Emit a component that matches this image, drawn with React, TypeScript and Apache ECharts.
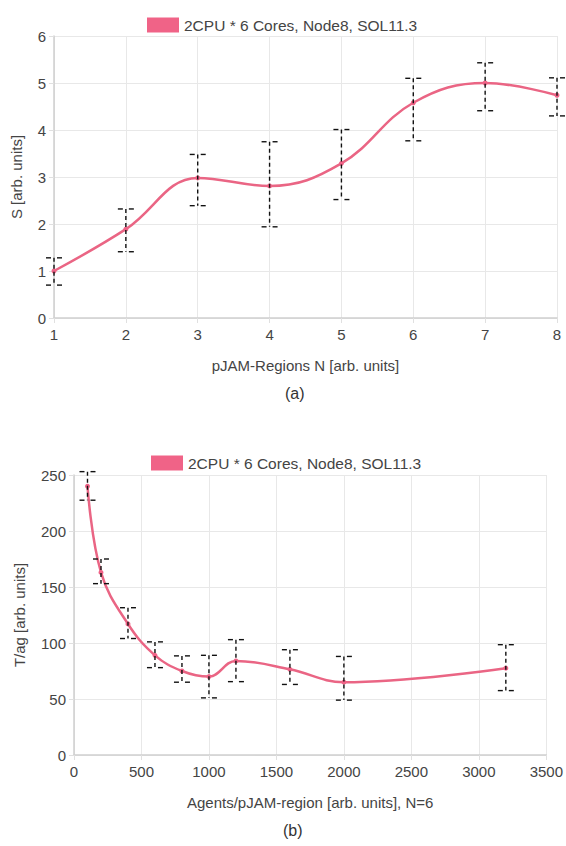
import React, { useEffect, useRef } from "react";
import * as echarts from "echarts";

const seriesName = "2CPU * 6 Cores, Node8, SOL11.3";

// Chart (a)
const regionsN = [1, 2, 3, 4, 5, 6, 7, 8];
const speedup = [1.0, 1.89, 2.98, 2.81, 3.29, 4.58, 5.0, 4.74];
const speedupLow = [0.7, 1.41, 2.39, 1.94, 2.52, 3.77, 4.41, 4.3];
const speedupHigh = [1.28, 2.32, 3.48, 3.75, 4.01, 5.1, 5.43, 5.11];

// Chart (b)
const agents = [100, 200, 400, 600, 800, 1000, 1200, 1600, 2000, 3200];
const timePerAgent = [240, 163, 117, 89, 75, 70, 84, 76.5, 65, 77.5];
const timeLow = [227.5, 153, 104, 78, 65, 51, 65.5, 63, 49, 57.5];
const timeHigh = [253, 175, 131.5, 101, 88.5, 89, 103, 94, 88, 98.5];

const LINE = "#ea6584";
const LEGEND_FILL = "#f06387";
const FONT = "Liberation Sans, Arial, sans-serif";

function errRender(params: any, api: any) {
  const x = api.value(0);
  const lo = api.value(1);
  const hi = api.value(2);
  const p1 = api.coord([x, hi]);
  const p2 = api.coord([x, lo]);
  const st = { stroke: "#111", lineWidth: 1.4, lineDash: [4, 3] };
  const cap = { stroke: "#111", lineWidth: 1.4 };
  const mk = (y: number) => [
    { type: "line", shape: { x1: p1[0] - 8, y1: y, x2: p1[0] - 3, y2: y }, style: cap },
    { type: "line", shape: { x1: p1[0] + 3, y1: y, x2: p1[0] + 8, y2: y }, style: cap },
  ];
  return {
    type: "group",
    children: [
      { type: "line", shape: { x1: p1[0], y1: p1[1], x2: p2[0], y2: p2[1] }, style: st },
      ...mk(p1[1]),
      ...mk(p2[1]),
    ],
  };
}

export default function App() {
  const ref = useRef<HTMLDivElement>(null);
  useEffect(() => {
    if (!ref.current) return;
    const chart = echarts.init(ref.current, undefined, { renderer: "svg" });
    const axisLabel = {
      color: "#444", fontSize: 15, fontFamily: FONT,
      formatter: (v: number) => String(v),
    };
    const nameStyle = { color: "#444", fontSize: 15, fontFamily: FONT };
    const splitLine = { show: true, lineStyle: { color: "#e8e8e8", width: 1 } };
    const axisLine = { show: true, onZero: false, lineStyle: { color: "#cfcfcf", width: 1.5 } };
    const axisTick = { show: true, length: 5, lineStyle: { color: "#e0e0e0" } };
    const legendCommon = {
      data: [seriesName],
      icon: "rect",
      itemWidth: 32,
      itemHeight: 15,
      itemGap: 10,
      textStyle: { color: "#444", fontSize: 15.5, fontFamily: FONT },
      selectedMode: false,
    };
    chart.setOption({
      animation: false,
      backgroundColor: "#fff",
      legend: [
        { ...legendCommon, left: 142, top: 12 },
        { ...legendCommon, left: 146, top: 450 },
      ],
      grid: [
        { left: 54, right: 9, top: 36, height: 282 },
        { left: 74, right: 18, top: 475, height: 280 },
      ],
      xAxis: [
        {
          gridIndex: 0, type: "value", min: 1, max: 8, interval: 1,
          axisLabel: { ...axisLabel, margin: 9 }, splitLine, axisLine, axisTick,
          name: "pJAM-Regions N [arb. units]", nameLocation: "middle", nameGap: 40,
          nameTextStyle: nameStyle,
        },
        {
          gridIndex: 1, type: "value", min: 0, max: 3500, interval: 500,
          axisLabel: { ...axisLabel, margin: 9 }, splitLine, axisLine, axisTick,
          name: "Agents/pJAM-region [arb. units], N=6", nameLocation: "middle", nameGap: 40,
          nameTextStyle: nameStyle,
        },
      ],
      yAxis: [
        {
          gridIndex: 0, type: "value", min: 0, max: 6, interval: 1,
          axisLabel: { ...axisLabel, margin: 8 }, splitLine, axisLine, axisTick,
          name: "S [arb. units]", nameLocation: "middle", nameGap: 30,
          nameTextStyle: nameStyle,
        },
        {
          gridIndex: 1, type: "value", min: 0, max: 250, interval: 50,
          axisLabel: { ...axisLabel, margin: 8 }, splitLine, axisLine, axisTick,
          name: "T/ag [arb. units]", nameLocation: "middle", nameGap: 47,
          nameTextStyle: nameStyle,
        },
      ],
      series: [
        {
          name: seriesName, type: "line", xAxisIndex: 0, yAxisIndex: 0,
          data: regionsN.map((x, i) => [x, speedup[i]]),
          smooth: 0.4, symbol: "circle", symbolSize: 5,
          lineStyle: { color: LINE, width: 2.5 },
          itemStyle: { color: LEGEND_FILL },
          z: 2,
        },
        {
          name: "errA", type: "custom", xAxisIndex: 0, yAxisIndex: 0,
          data: regionsN.map((x, i) => [x, speedupLow[i], speedupHigh[i]]),
          renderItem: errRender, encode: { x: 0, y: [1, 2] }, clip: false, z: 3,
        },
        {
          name: seriesName, type: "line", xAxisIndex: 1, yAxisIndex: 1,
          data: agents.map((x, i) => [x, timePerAgent[i]]),
          smooth: 0.4, symbol: "circle", symbolSize: 5,
          lineStyle: { color: LINE, width: 2.5 },
          itemStyle: { color: LEGEND_FILL },
          z: 2,
        },
        {
          name: "errB", type: "custom", xAxisIndex: 1, yAxisIndex: 1,
          data: agents.map((x, i) => [x, timeLow[i], timeHigh[i]]),
          renderItem: errRender, encode: { x: 0, y: [1, 2] }, clip: false, z: 3,
        },
      ],
      graphic: [
        {
          type: "text", left: 285, top: 385,
          style: { text: "(a)", fill: "#333", font: "16px " + FONT },
        },
        {
          type: "text", left: 283, top: 822,
          style: { text: "(b)", fill: "#333", font: "16px " + FONT },
        },
      ],
    });
    return () => chart.dispose();
  }, []);
  return (
    <div
      ref={ref}
      style={{ position: "absolute", left: 0, top: 0, width: 566, height: 846, background: "#fff" }}
    />
  );
}
